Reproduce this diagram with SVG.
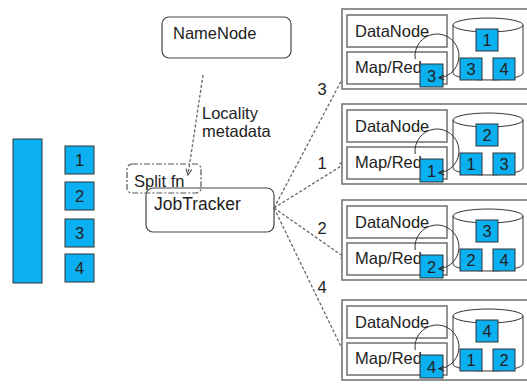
<svg xmlns="http://www.w3.org/2000/svg" width="527" height="385" viewBox="0 0 527 385">
<defs>
<style>
text{font-family:"Liberation Sans",Arial,sans-serif;fill:#222;font-size:16.5px}
.c{text-anchor:middle}
.blue{fill:#0BB0F0;stroke:#333;stroke-width:1}
.box{fill:#fff;stroke:#444;stroke-width:1.2}
.pbox{fill:#fff;stroke:#777;stroke-width:1.6}
.dash{fill:none;stroke:#666;stroke-width:1.3;stroke-dasharray:3,2}
.arc{fill:none;stroke:#333;stroke-width:1}
</style>
<marker id="ah" viewBox="0 0 8 8" refX="7" refY="4" markerWidth="8" markerHeight="8" markerUnits="userSpaceOnUse" orient="auto">
<path d="M1,1 L7,4 L1,7" fill="none" stroke="#555" stroke-width="1.2"/>
</marker>
<marker id="ah2" viewBox="0 0 8 8" refX="7" refY="4" markerWidth="7" markerHeight="7" markerUnits="userSpaceOnUse" orient="auto">
<path d="M1,1 L7,4 L1,7" fill="none" stroke="#222" stroke-width="1.2"/>
</marker>
</defs>
<rect width="527" height="385" fill="#fff"/>

<g id="data">
<rect class="blue" x="13" y="139" width="29" height="144" fill="#0BB0F0"/>
</g>
<g id="split1"><rect class="blue" x="65" y="146" width="29" height="28"/><text class="c" x="79.5" y="166">1</text></g>
<g id="split2"><rect class="blue" x="65" y="182" width="29" height="28"/><text class="c" x="79.5" y="202">2</text></g>
<g id="split3"><rect class="blue" x="65" y="219" width="29" height="28"/><text class="c" x="79.5" y="239">3</text></g>
<g id="split4"><rect class="blue" x="65" y="254" width="29" height="28"/><text class="c" x="79.5" y="274">4</text></g>

<g id="namenode">
<rect class="box" x="162" y="17" width="129" height="41" rx="7"/>
<text x="173" y="39">NameNode</text>
</g>

<g id="jobtracker">
<rect x="146" y="188" width="128" height="44" rx="7" fill="none" stroke="#444" stroke-width="1.2"/>
<text x="154" y="210" style="font-size:17.5px">JobTracker</text>
</g>

<g id="splitfn">
<rect x="127" y="164" width="74" height="29" rx="5" fill="none" stroke="#555" stroke-width="1.2" stroke-dasharray="6,2,2,2"/>
<text x="134" y="187">Split fn</text>
</g>

<g id="connectors">
<line class="dash" x1="203" y1="75" x2="188" y2="175" marker-end="url(#ah)"/>
<text x="202" y="119">Locality</text>
<text x="202" y="137">metadata</text>
<line class="dash" x1="274" y1="208" x2="347" y2="70" marker-end="url(#ah)"/>
<line class="dash" x1="274" y1="208" x2="346" y2="163" marker-end="url(#ah)"/>
<line class="dash" x1="274" y1="208" x2="347" y2="259" marker-end="url(#ah)"/>
<line class="dash" x1="274" y1="208" x2="347" y2="359" marker-end="url(#ah)"/>
<text class="c" x="322" y="95">3</text>
<text class="c" x="322" y="169">1</text>
<text class="c" x="322" y="234">2</text>
<text class="c" x="322" y="293">4</text>
</g>

<g id="node1" transform="translate(0,9)">
<rect class="pbox" x="342" y="0" width="200" height="80"/>
<rect class="pbox" x="347" y="6" width="100" height="32"/>
<text x="355" y="28">DataNode</text>
<rect class="pbox" x="347" y="43" width="100" height="32"/>
<text x="355" y="64">Map/Red</text>
<path class="arc" d="M453,16 V64 A35,7 0 0 0 523,64 V16" fill="#fff"/>
<ellipse class="arc" cx="488" cy="16" rx="35" ry="7" fill="#fff"/>
<rect class="blue" x="476" y="20" width="22" height="22"/><text class="c" x="487" y="37">1</text>
<rect class="blue" x="460" y="49" width="22" height="22"/><text class="c" x="471" y="66">3</text>
<rect class="blue" x="493" y="49" width="22" height="22"/><text class="c" x="504" y="66">4</text>
<rect class="blue" x="420" y="55" width="23" height="23"/><text class="c" x="431.5" y="73">3</text>
<path class="arc" d="M415.2,50 A22,22 0 1 1 438.9,68.9" marker-end="url(#ah2)"/>
</g>

<g id="node2" transform="translate(0,104)">
<rect class="pbox" x="342" y="0" width="200" height="80"/>
<rect class="pbox" x="347" y="6" width="100" height="32"/>
<text x="355" y="28">DataNode</text>
<rect class="pbox" x="347" y="43" width="100" height="32"/>
<text x="355" y="64">Map/Red</text>
<path class="arc" d="M453,16 V64 A35,7 0 0 0 523,64 V16" fill="#fff"/>
<ellipse class="arc" cx="488" cy="16" rx="35" ry="7" fill="#fff"/>
<rect class="blue" x="476" y="20" width="22" height="22"/><text class="c" x="487" y="37">2</text>
<rect class="blue" x="460" y="49" width="22" height="22"/><text class="c" x="471" y="66">1</text>
<rect class="blue" x="493" y="49" width="22" height="22"/><text class="c" x="504" y="66">3</text>
<rect class="blue" x="420" y="55" width="23" height="23"/><text class="c" x="431.5" y="73">1</text>
<path class="arc" d="M415.2,50 A22,22 0 1 1 438.9,68.9" marker-end="url(#ah2)"/>
</g>

<g id="node3" transform="translate(0,200)">
<rect class="pbox" x="342" y="0" width="200" height="80"/>
<rect class="pbox" x="347" y="6" width="100" height="32"/>
<text x="355" y="28">DataNode</text>
<rect class="pbox" x="347" y="43" width="100" height="32"/>
<text x="355" y="64">Map/Red</text>
<path class="arc" d="M453,16 V64 A35,7 0 0 0 523,64 V16" fill="#fff"/>
<ellipse class="arc" cx="488" cy="16" rx="35" ry="7" fill="#fff"/>
<rect class="blue" x="476" y="20" width="22" height="22"/><text class="c" x="487" y="37">3</text>
<rect class="blue" x="460" y="49" width="22" height="22"/><text class="c" x="471" y="66">2</text>
<rect class="blue" x="493" y="49" width="22" height="22"/><text class="c" x="504" y="66">4</text>
<rect class="blue" x="420" y="55" width="23" height="23"/><text class="c" x="431.5" y="73">2</text>
<path class="arc" d="M415.2,50 A22,22 0 1 1 438.9,68.9" marker-end="url(#ah2)"/>
</g>

<g id="node4" transform="translate(0,300)">
<rect class="pbox" x="342" y="0" width="200" height="80"/>
<rect class="pbox" x="347" y="6" width="100" height="32"/>
<text x="355" y="28">DataNode</text>
<rect class="pbox" x="347" y="43" width="100" height="32"/>
<text x="355" y="64">Map/Red</text>
<path class="arc" d="M453,16 V64 A35,7 0 0 0 523,64 V16" fill="#fff"/>
<ellipse class="arc" cx="488" cy="16" rx="35" ry="7" fill="#fff"/>
<rect class="blue" x="476" y="20" width="22" height="22"/><text class="c" x="487" y="37">4</text>
<rect class="blue" x="460" y="49" width="22" height="22"/><text class="c" x="471" y="66">1</text>
<rect class="blue" x="493" y="49" width="22" height="22"/><text class="c" x="504" y="66">2</text>
<rect class="blue" x="420" y="55" width="23" height="23"/><text class="c" x="431.5" y="73">4</text>
<path class="arc" d="M415.2,50 A22,22 0 1 1 438.9,68.9" marker-end="url(#ah2)"/>
</g>
</svg>
